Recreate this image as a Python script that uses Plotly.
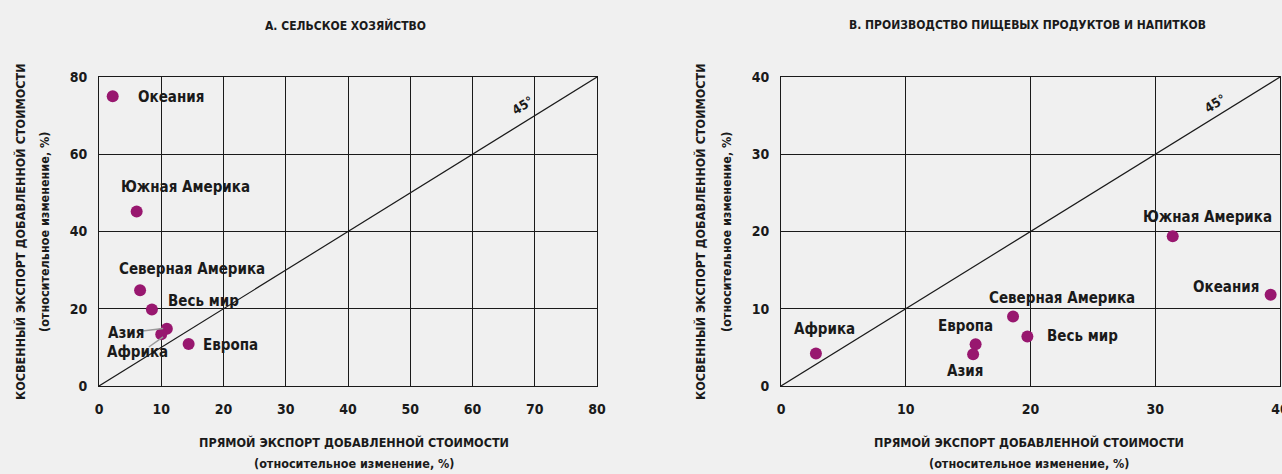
import plotly.graph_objects as go

# ---- data ----
regions_a = ["Океания", "Южная Америка", "Северная Америка", "Весь мир", "Азия", "Африка", "Европа"]
direct_a = [2.2, 6.05, 6.6, 8.5, 10.9, 10.0, 14.4]
indirect_a = [75.0, 45.2, 24.8, 19.8, 14.8, 13.4, 10.9]

regions_b = ["Африка", "Европа", "Азия", "Северная Америка", "Весь мир", "Южная Америка", "Океания"]
direct_b = [2.8, 15.6, 15.4, 18.6, 19.75, 31.4, 39.25]
indirect_b = [4.2, 5.4, 4.1, 9.0, 6.4, 19.4, 11.8]

x_ticks_a = [0, 10, 20, 30, 40, 50, 60, 70, 80]
y_ticks_a = [0, 20, 40, 60, 80]
x_ticks_b = [0, 10, 20, 30, 40]
y_ticks_b = [0, 10, 20, 30, 40]

title_a = "А. СЕЛЬСКОЕ ХОЗЯЙСТВО"
title_b = "B. ПРОИЗВОДСТВО ПИЩЕВЫХ ПРОДУКТОВ И НАПИТКОВ"
x_title = ["ПРЯМОЙ ЭКСПОРТ ДОБАВЛЕННОЙ СТОИМОСТИ", "(относительное изменение, %)"]
y_title = ["КОСВЕННЫЙ ЭКСПОРТ ДОБАВЛЕННОЙ СТОИМОСТИ", "(относительное изменение, %)"]

# label placement (data coords) : (x, y, xanchor)
labels_a = {
    "Океания": (5.9, 74.8, "left"),
    "Южная Америка": (13.9, 51.5, "center"),
    "Северная Америка": (14.9, 30.3, "center"),
    "Весь мир": (10.7, 22.0, "left"),
    "Азия": (1.1, 13.7, "left"),
    "Африка": (1.0, 8.8, "left"),
    "Европа": (16.4, 10.6, "left"),
}
labels_b = {
    "Африка": (3.5, 7.4, "center"),
    "Европа": (14.75, 7.8, "center"),
    "Азия": (14.75, 1.9, "center"),
    "Северная Америка": (22.5, 11.4, "center"),
    "Весь мир": (24.2, 6.5, "center"),
    "Южная Америка": (34.2, 21.9, "center"),
    "Океания": (35.7, 12.8, "center"),
}
leaders_a = [((6.6, 14.2), (10.3, 14.9)), ((8.0, 10.1), (10.3, 12.7))]

FONT = "Liberation Sans Narrow, DejaVu Sans Condensed, Arial Narrow, sans-serif"
BG = "#f0f0f0"
PURPLE = "#98176f"
INK = "#1a1a1a"
W, H = 1282, 474

def px_x(p):
    return p / W

def px_y(p):
    return 1 - p / H

fig = go.Figure()

fig.add_trace(go.Scatter(x=direct_a, y=indirect_a, mode="markers",
                         marker=dict(size=12, color=PURPLE), xaxis="x", yaxis="y",
                         hoverinfo="text", text=regions_a, showlegend=False))
fig.add_trace(go.Scatter(x=direct_b, y=indirect_b, mode="markers",
                         marker=dict(size=12, color=PURPLE), xaxis="x2", yaxis="y2",
                         hoverinfo="text", text=regions_b, showlegend=False))

axis_common = dict(showgrid=True, gridcolor=INK, gridwidth=1, zeroline=False,
                   showline=True, linecolor=INK, linewidth=1, mirror=True,
                   ticks="outside", tickcolor=BG, ticklabeloverflow="allow",
                   tickfont=dict(family=FONT, size=14, color=INK, weight="bold"),
                   fixedrange=True)

ydom = [px_y(386), px_y(77)]
fig.update_layout(
    width=W, height=H,
    paper_bgcolor=BG, plot_bgcolor=BG,
    margin=dict(l=0, r=0, t=0, b=0, autoexpand=False),
    font=dict(family=FONT, color=INK),
    xaxis=dict(domain=[px_x(99), px_x(597)], range=[0, 80], tickvals=x_ticks_a,
               ticklen=10, anchor="y", **axis_common),
    yaxis=dict(domain=ydom, range=[0, 80], tickvals=y_ticks_a, ticklen=8,
               anchor="x", **axis_common),
    xaxis2=dict(domain=[px_x(781), px_x(1280)], range=[0, 40], tickvals=x_ticks_b,
                ticklen=10, anchor="y2", **axis_common),
    yaxis2=dict(domain=ydom, range=[0, 40], tickvals=y_ticks_b, ticklen=8,
                anchor="x2", **axis_common),
)

# diagonal 45° lines
fig.add_shape(type="line", xref="x", yref="y", x0=0, y0=0, x1=80, y1=80,
              line=dict(color=INK, width=1.2))
fig.add_shape(type="line", xref="x2", yref="y2", x0=0, y0=0, x1=40, y1=40,
              line=dict(color=INK, width=1.2))

# leader lines
for (x0, y0), (x1, y1) in leaders_a:
    fig.add_shape(type="line", xref="x", yref="y", x0=x0, y0=y0, x1=x1, y1=y1,
                  line=dict(color="#9a9a9a", width=1.5))

lab_font = dict(family=FONT, size=15, color=INK, weight="bold")
for name, (x, y, xa) in labels_a.items():
    fig.add_annotation(x=x, y=y, xref="x", yref="y", text=name, showarrow=False,
                       xanchor=xa, yanchor="middle", font=lab_font)
for name, (x, y, xa) in labels_b.items():
    fig.add_annotation(x=x, y=y, xref="x2", yref="y2", text=name, showarrow=False,
                       xanchor=xa, yanchor="middle", font=lab_font)

# 45° labels
deg_font = dict(family=FONT, size=13, color=INK, weight="bold")
fig.add_annotation(x=68.1, y=72.5, xref="x", yref="y", text="45°", showarrow=False,
                   textangle=-32, font=deg_font)
fig.add_annotation(x=34.8, y=36.6, xref="x2", yref="y2", text="45°", showarrow=False,
                   textangle=-32, font=deg_font)

# panel titles
title_font = dict(family=FONT, size=12, color=INK, weight="bold")
fig.add_annotation(x=px_x(345), y=px_y(25), xref="paper", yref="paper", text=title_a,
                   showarrow=False, xanchor="center", yanchor="middle", font=title_font)
fig.add_annotation(x=px_x(1027), y=px_y(25), xref="paper", yref="paper", text=title_b,
                   showarrow=False, xanchor="center", yanchor="middle", font=title_font)

# axis titles
ax_font = dict(family=FONT, size=12.5, color=INK, weight="bold")
for cx in (354, 1029):
    fig.add_annotation(x=px_x(cx), y=px_y(442), xref="paper", yref="paper", text=x_title[0],
                       showarrow=False, xanchor="center", yanchor="middle", font=ax_font)
    fig.add_annotation(x=px_x(cx), y=px_y(463), xref="paper", yref="paper", text=x_title[1],
                       showarrow=False, xanchor="center", yanchor="middle", font=ax_font)
for lx1, lx2 in ((20, 44), (700, 726)):
    fig.add_annotation(x=px_x(lx1), y=px_y(232), xref="paper", yref="paper", text=y_title[0],
                       showarrow=False, textangle=-90, xanchor="center", yanchor="middle",
                       font=ax_font)
    fig.add_annotation(x=px_x(lx2), y=px_y(232), xref="paper", yref="paper", text=y_title[1],
                       showarrow=False, textangle=-90, xanchor="center", yanchor="middle",
                       font=ax_font)

fig.write_html(
    "out.html",
    config={"displayModeBar": False},
    post_script="document.body.style.margin='0';document.body.style.background='%s';"
                "document.body.style.overflow='hidden';" % BG,
)
